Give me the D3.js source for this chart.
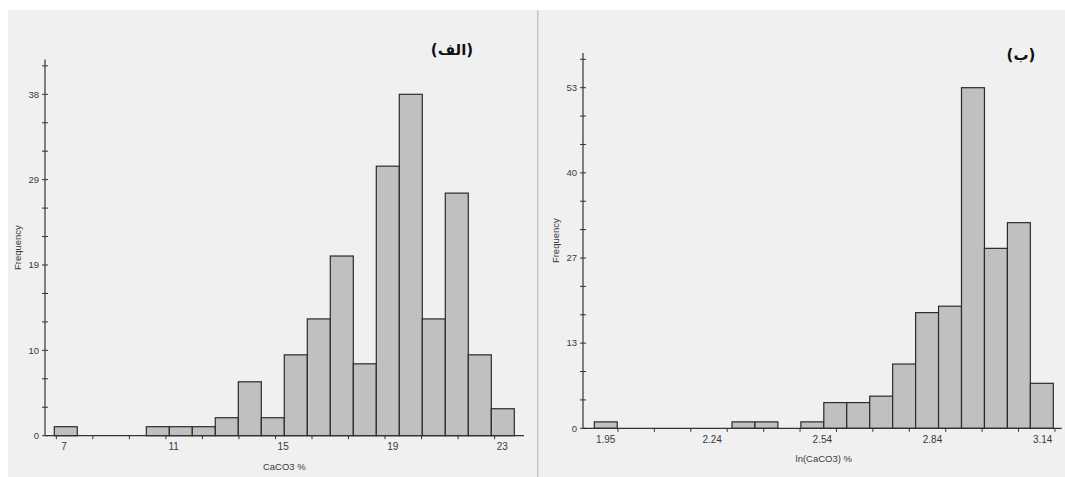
<!DOCTYPE html>
<html>
<head>
<meta charset="utf-8">
<script src="https://cdn.jsdelivr.net/npm/d3@7"></script>
<style>
  body { margin: 0; background: #fff; }
  svg { display: block; font-family: "Liberation Sans", Arial, sans-serif; }
</style>
</head>
<body>
<div id="chart"></div>
<script>
// (a) CaCO3 % - 20 bins between min and max
const caco3Counts = [1, 0, 0, 0, 1, 1, 1, 2, 6, 2, 9, 13, 20, 8, 30, 38, 13, 27, 9, 3];
const caco3Range = [6.646, 23.438];
const caco3Labels = [7, 11, 15, 19, 23];
const caco3YTicks = [0, 9.5, 19, 28.5, 38];

// (b) ln(CaCO3) %
const lnCounts = [1, 0, 0, 0, 0, 0, 1, 1, 0, 1, 4, 4, 5, 10, 18, 19, 53, 28, 32, 7];
const lnRange = [1.919, 3.169];
const lnLabels = [1.95, 2.24, 2.54, 2.84, 3.14];
const lnYTicks = [0, 13.25, 26.5, 39.75, 53];

const width = 1065, height = 477;

const svg = d3.select("#chart")
  .append("svg")
    .attr("width", width)
    .attr("height", height);

// panel backgrounds + separator
svg.append("rect").attr("x", 8).attr("y", 10).attr("width", 529).attr("height", height - 10).attr("fill", "#f0f0f0");
svg.append("rect").attr("x", 539).attr("y", 10).attr("width", width - 539).attr("height", height - 10).attr("fill", "#f0f0f0");
svg.append("line")
  .attr("x1", 537.8).attr("x2", 537.8).attr("y1", 10).attr("y2", height)
  .attr("stroke", "#c4c4c4").attr("stroke-width", 1.6);

function buildHistogram(opts) {
  const { counts, range, labels, fmt, yTicks, box } = opts;
  const g = svg.append("g");

  const binW = (range[1] - range[0]) / counts.length;
  const bins = counts.map((c, i) => ({ x0: range[0] + i * binW, x1: range[0] + (i + 1) * binW, n: c }));

  const x = d3.scaleLinear().domain(range).range([box.left, box.right]);
  const yMax = yTicks[yTicks.length - 1];
  const y = d3.scaleLinear().domain([0, yMax]).range([box.base, box.top]);

  // bars
  g.selectAll("rect.bar")
    .data(bins.filter(d => d.n > 0))
    .enter()
    .append("rect")
      .attr("class", "bar")
      .attr("x", d => x(d.x0))
      .attr("y", d => y(d.n))
      .attr("width", d => x(d.x1) - x(d.x0))
      .attr("height", d => y(0) - y(d.n))
      .attr("fill", "#c0c0c0")
      .attr("stroke", "#2b2b2b")
      .attr("stroke-width", 1.2);

  const axisColor = "#333";

  // y axis line + ticks (minor every 1/3 of a major step, one extra above)
  const yTop = yMax + yMax / 12 * 1.22;
  g.append("line")
    .attr("x1", box.axisX).attr("x2", box.axisX)
    .attr("y1", y(0)).attr("y2", y(yTop))
    .attr("stroke", axisColor).attr("stroke-width", 1.2);
  g.selectAll("line.ytick")
    .data(d3.range(14).map(i => i * yMax / 12))
    .enter()
    .append("line")
      .attr("class", "ytick")
      .attr("x1", box.axisX - 3).attr("x2", box.axisX + 3)
      .attr("y1", d => y(d)).attr("y2", d => y(d))
      .attr("stroke", axisColor);
  g.selectAll("text.ylab")
    .data(yTicks)
    .enter()
    .append("text")
      .attr("class", "ylab")
      .attr("x", box.axisX - 6)
      .attr("y", d => y(d))
      .attr("dy", "0.35em")
      .attr("text-anchor", "end")
      .attr("font-size", 9.5)
      .attr("fill", "#3a3a3a")
      .text(d => Math.round(d));

  // x axis line + ticks
  g.append("line")
    .attr("x1", box.axisX).attr("x2", box.axisEnd)
    .attr("y1", y(0)).attr("y2", y(0))
    .attr("stroke", axisColor).attr("stroke-width", 1.2);
  g.selectAll("line.xtick")
    .data(d3.range(opts.tickStart, range[1] + opts.tickStep * 0.1, opts.tickStep))
    .enter()
    .append("line")
      .attr("class", "xtick")
      .attr("x1", d => x(d)).attr("x2", d => x(d))
      .attr("y1", y(0)).attr("y2", y(0) + 3.5)
      .attr("stroke", axisColor);
  g.selectAll("text.xlab")
    .data(labels)
    .enter()
    .append("text")
      .attr("class", "xlab")
      .attr("x", d => x(d))
      .attr("y", y(0) + 14.5)
      .attr("text-anchor", "middle")
      .attr("font-size", 10)
      .attr("fill", "#3a3a3a")
      .text(fmt);

  // axis titles
  g.append("text")
    .attr("x", (box.left + box.right) / 2 + opts.titleShift)
    .attr("y", y(0) + 34)
    .attr("text-anchor", "middle")
    .attr("font-size", 9.5)
    .attr("fill", "#3a3a3a")
    .text(opts.xTitle);
  g.append("text")
    .attr("transform", `translate(${box.axisX - 24},${(y(0) + y(yTop)) / 2})rotate(-90)`)
    .attr("text-anchor", "middle")
    .attr("font-size", 9.5)
    .attr("fill", "#3a3a3a")
    .text("Frequency");

  // panel title (Persian)
  g.append("text")
    .attr("x", opts.titleX)
    .attr("y", opts.titleY)
    .attr("dy", "0.35em")
    .attr("text-anchor", "middle")
    .attr("font-family", "'DejaVu Sans', sans-serif")
    .attr("font-weight", "bold")
    .attr("font-size", 15)
    .attr("fill", "#111")
    .text(opts.title);
}

buildHistogram({
  counts: caco3Counts, range: caco3Range, labels: caco3Labels, yTicks: caco3YTicks,
  fmt: d => d,
  tickStart: 6.72, tickStep: 4 / 3,
  box: { left: 54.3, right: 514.3, base: 435.7, top: 94.3, axisX: 45, axisEnd: 524 },
  xTitle: "CaCO3 %", titleShift: 0,
  title: "(الف)", titleX: 452, titleY: 50
});

buildHistogram({
  counts: lnCounts, range: lnRange, labels: lnLabels, yTicks: lnYTicks,
  fmt: d => d.toFixed(2),
  tickStart: 1.9835, tickStep: 0.2975 / 3,
  box: { left: 594.3, right: 1053.3, base: 428.3, top: 87.7, axisX: 583, axisEnd: 1061.7 },
  xTitle: "ln(CaCO3) %", titleShift: 0,
  title: "(ب)", titleX: 1021, titleY: 55
});
</script>
</body>
</html>
